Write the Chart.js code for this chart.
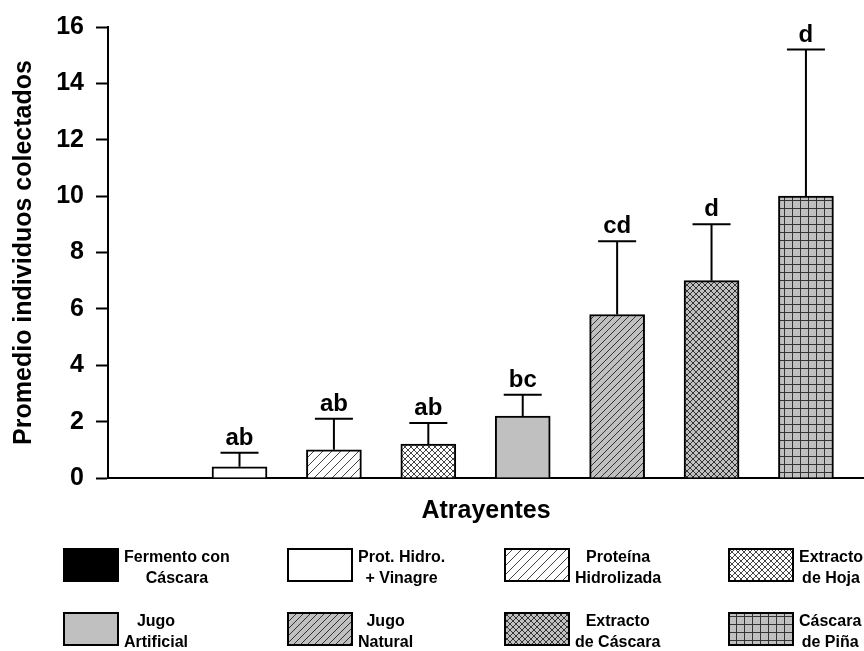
<!DOCTYPE html>
<html><head><meta charset="utf-8">
<script src="https://cdn.jsdelivr.net/npm/chart.js@4.4.1/dist/chart.umd.min.js"></script>
<style>html,body{margin:0;padding:0;background:#fff;} canvas{display:block;}</style>
</head><body>
<canvas id="c" width="864" height="651"></canvas>
<script>
const categories = ["Fermento con\nCáscara", "Prot. Hidro.\n+ Vinagre", "Proteína\nHidrolizada", "Extracto\nde Hoja", "Jugo\nArtificial", "Jugo\nNatural", "Extracto\nde Cáscara", "Cáscara\nde Piña"];
const means = [0, 0.4, 1.0, 1.2, 2.2, 5.8, 7.0, 10.0];
const errors = [0, 0.5, 1.1, 0.75, 0.75, 2.6, 2.0, 5.2];
const letters = ["", "ab", "ab", "ab", "bc", "cd", "d", "d"];
const fills = ["black", "white", "diag-white", "cross-white", "gray", "diag-gray", "cross-gray", "grid-gray"];
const yTicks = [0, 2, 4, 6, 8, 10, 12, 14, 16];
const yTitle = "Promedio individuos colectados";
const xTitle = "Atrayentes";

const FONT = "'Liberation Sans', Arial, Helvetica, sans-serif";
const GRAY = '#c0c0c0';

function makeFill(kind) {
  if (kind === 'black') return '#000';
  if (kind === 'white') return '#fff';
  if (kind === 'gray') return GRAY;
  const [pat, bgName] = kind.split('-');
  const bg = bgName === 'gray' ? GRAY : '#fff';
  const c = document.createElement('canvas');
  let s = 7;
  if (pat === 'grid') s = 8;
  else if (pat === 'cross') s = 6;
  else if (pat === 'diag' && bgName === 'white') s = 9;
  c.width = s; c.height = s;
  const x = c.getContext('2d');
  x.fillStyle = bg; x.fillRect(0, 0, s, s);
  x.strokeStyle = bgName === 'gray' ? '#333' : '#444';
  x.lineWidth = 1;
  x.beginPath();
  if (pat === 'diag' || pat === 'cross') {
    x.moveTo(-1, s + 1); x.lineTo(s + 1, -1);
    x.moveTo(-1, 1); x.lineTo(1, -1);
    x.moveTo(s - 1, s + 1); x.lineTo(s + 1, s - 1);
  }
  if (pat === 'cross') {
    x.moveTo(-1, -1); x.lineTo(s + 1, s + 1);
    x.moveTo(s - 1, -1); x.lineTo(s + 1, 1);
    x.moveTo(-1, s - 1); x.lineTo(1, s + 1);
  }
  if (pat === 'grid') {
    x.moveTo(0.5, 0); x.lineTo(0.5, s);
    x.moveTo(0, 0.5); x.lineTo(s, 0.5);
  }
  x.stroke();
  const ctx = document.getElementById('c').getContext('2d');
  return ctx.createPattern(c, 'repeat');
}
const fillStyles = fills.map(makeFill);

const errorPlugin = {
  id: 'errorBars',
  afterDatasetsDraw(chart) {
    const ctx = chart.ctx;
    const meta = chart.getDatasetMeta(0);
    const yS = chart.scales.y;
    ctx.save();
    ctx.strokeStyle = '#000';
    ctx.lineWidth = 2;
    meta.data.forEach((bar, i) => {
      if (!means[i] && !errors[i]) return;
      const top = yS.getPixelForValue(means[i] + errors[i]);
      const base = yS.getPixelForValue(means[i]);
      ctx.beginPath();
      ctx.moveTo(bar.x, base); ctx.lineTo(bar.x, top);
      ctx.moveTo(bar.x - 19, top); ctx.lineTo(bar.x + 19, top);
      ctx.stroke();
      ctx.fillStyle = '#000';
      ctx.font = 'bold 24px ' + FONT;
      ctx.textAlign = 'center';
      ctx.textBaseline = 'alphabetic';
      ctx.fillText(letters[i], bar.x, top - 8);
    });
    ctx.restore();
  }
};

const legendPlugin = {
  id: 'customLegend',
  afterDraw(chart) {
    const ctx = chart.ctx;
    const boxLefts = [64, 288, 505, 729];
    const boxWidths = [54, 64, 64, 64];
    const rowCenters = [565, 629];
    const bh = 32;
    ctx.save();
    ctx.font = 'bold 16px ' + FONT;
    categories.forEach((cat, i) => {
      const col = i % 4, row = Math.floor(i / 4);
      const bx = boxLefts[col], cy = rowCenters[row], bw = boxWidths[col];
      ctx.fillStyle = fillStyles[i];
      ctx.fillRect(bx, cy - bh / 2, bw, bh);
      ctx.strokeStyle = '#000';
      ctx.lineWidth = 2;
      ctx.strokeRect(bx, cy - bh / 2, bw, bh);
      const lines = cat.split('\n');
      const maxW = Math.max(...lines.map(l => ctx.measureText(l).width));
      const tx = bx + bw + 6 + maxW / 2;
      ctx.fillStyle = '#000';
      ctx.textAlign = 'center';
      ctx.textBaseline = 'middle';
      lines.forEach((l, k) => {
        ctx.fillText(l, tx, cy + 3 + (k - (lines.length - 1) / 2) * 21.5);
      });
    });
    ctx.restore();
  }
};

new Chart(document.getElementById('c'), {
  type: 'bar',
  data: {
    datasets: [{
      data: categories.map((c, i) => ({ x: i, y: means[i] })),
      backgroundColor: fillStyles,
      borderColor: '#000',
      borderWidth: 2,
      barThickness: 55
    }]
  },
  options: {
    responsive: false,
    devicePixelRatio: 1,
    animation: false,
    layout: { padding: { left: 0, right: 0, top: 21, bottom: 0 } },
    plugins: { legend: { display: false }, tooltip: { enabled: false } },
    scales: {
      x: {
        type: 'linear',
        offset: false,
        min: -0.393,
        max: 7.615,
        ticks: { display: false },
        grid: { display: false, drawTicks: false, offset: false },
        border: { display: true, color: '#000', width: 2 },
        title: { display: true, text: xTitle, color: '#000', font: { family: FONT, size: 25, weight: 'bold' }, padding: { top: 0, bottom: 125 } },
        afterFit(scale) { scale.height = 173; }
      },
      y: {
        min: 0,
        max: 16,
        afterBuildTicks(scale) { scale.ticks = yTicks.map(v => ({ value: v })); },
        ticks: { color: '#000', font: { family: FONT, size: 25, weight: 'bold' }, padding: 12 },
        grid: { display: true, drawOnChartArea: false, drawTicks: true, tickLength: 12, tickColor: '#000', tickWidth: 2 },
        border: { display: true, color: '#000', width: 2 },
        title: { display: true, text: yTitle, color: '#000', font: { family: FONT, size: 25, weight: 'bold' }, padding: { top: 9, bottom: 0 } },
        afterFit(scale) { scale.width = 108; }
      }
    }
  },
  plugins: [errorPlugin, legendPlugin]
});
</script>
</body></html>
